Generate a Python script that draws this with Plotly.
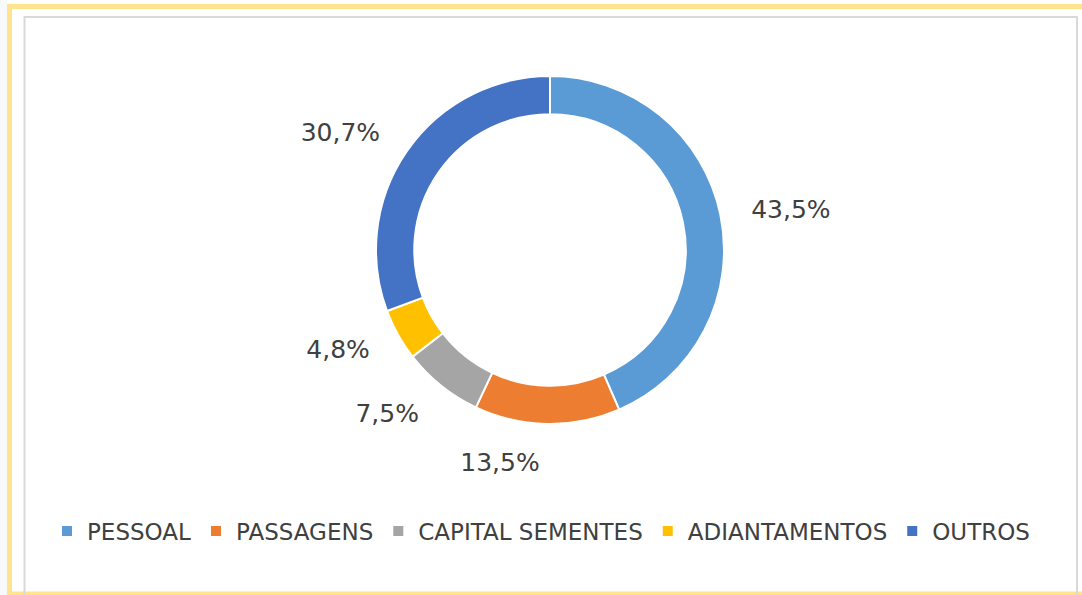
import plotly.graph_objects as go

categorias = ["PESSOAL", "PASSAGENS", "CAPITAL SEMENTES", "ADIANTAMENTOS", "OUTROS"]
valores = [43.5, 13.5, 7.5, 4.8, 30.7]
cores = ["#5B9BD5", "#ED7D31", "#A5A5A5", "#FFC000", "#4472C4"]

W, H = 1082, 595
FONTE = "DejaVu Sans"
CINZA_TEXTO = "#404040"

def px(x):
    return x / W

def py(y):
    return 1 - y / H

# centro e raios do anel, em pixels
cx, cy, r_ext, r_rot = 550, 250, 174, 198

fig = go.Figure()
fig.add_trace(go.Pie(
    labels=categorias,
    values=valores,
    hole=0.78,
    sort=False,
    direction="clockwise",
    marker=dict(colors=cores, line=dict(color="white", width=2)),
    textinfo="none",
    hoverinfo="label+percent",
    domain=dict(x=[px(cx - r_ext), px(cx + r_ext)], y=[py(cy + r_ext), py(cy - r_ext)]),
))

# pizza invisivel maior so para afastar os rotulos do anel, como no Excel
fig.add_trace(go.Pie(
    labels=categorias,
    values=valores,
    hole=0.95,
    sort=False,
    direction="clockwise",
    marker=dict(colors=["rgba(0,0,0,0)"] * len(valores), line=dict(width=0)),
    texttemplate="%{value:.1f}%",
    textposition="outside",
    outsidetextfont=dict(size=25, color=CINZA_TEXTO, family=FONTE),
    hoverinfo="skip",
    showlegend=False,
    domain=dict(x=[px(cx - r_rot), px(cx + r_rot)], y=[py(cy + r_rot), py(cy - r_rot)]),
))

# moldura amarela e borda cinza do grafico
fig.add_shape(type="rect", xref="paper", yref="paper",
              x0=0, x1=px(7), y0=0, y1=1,
              line=dict(width=0), fillcolor="#F8F9FB", layer="below")
fig.add_shape(type="rect", xref="paper", yref="paper",
              x0=px(9.5), x1=px(1095), y0=py(594), y1=py(6.5),
              line=dict(color="#FFE38F", width=5), layer="below")
fig.add_shape(type="rect", xref="paper", yref="paper",
              x0=px(24.5), x1=px(1077), y0=py(605), y1=py(17),
              line=dict(color="#D9D9D9", width=2), layer="below")

fig.update_layout(
    width=W, height=H,
    margin=dict(l=0, r=0, t=0, b=0),
    paper_bgcolor="white",
    separators=",.",
    showlegend=True,
    legend=dict(orientation="h", x=0.5, xanchor="center", y=py(531), yanchor="middle",
                font=dict(size=23, color=CINZA_TEXTO, family=FONTE),
                itemwidth=30, bgcolor="rgba(0,0,0,0)"),
    font=dict(family=FONTE, color=CINZA_TEXTO),
)

fig.write_html("out.html",
               config={"displayModeBar": False},
               post_script="document.body.style.margin='0';"
                           "document.documentElement.style.overflow='hidden';")
